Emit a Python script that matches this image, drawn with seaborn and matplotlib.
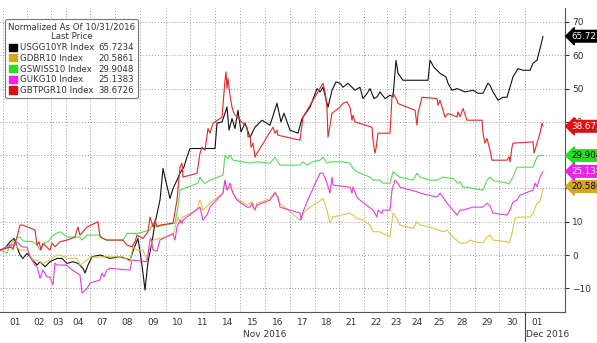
import numpy as np
import pandas as pd
import matplotlib
matplotlib.use("Agg")
import matplotlib.pyplot as plt
import matplotlib.transforms as mtransforms
from matplotlib.patches import Patch
import seaborn as sns

# ---------------- data ----------------
series_names = ["USGG10YR Index", "GDBR10 Index", "GSWISS10 Index", "GUKG10 Index", "GBTPGR10 Index"]
last_prices = [65.7234, 20.5861, 29.9048, 25.1383, 38.6726]
line_colors = ["#111111", "#dcc548", "#55dc55", "#e03ee0", "#e42828"]
swatch_colors = ["#000000", "#d4a81c", "#22e022", "#ee22ee", "#e01010"]
tag_text_colors = ["white", "black", "black", "white", "white"]

# trading-session boundaries (elapsed trading time units) and day labels
session_edges = [2.7, 26.7, 50.7, 65.7, 90, 115, 140, 165.7, 190, 215, 240, 265, 290,
                 315, 339, 364, 387, 405, 429, 450, 475, 499, 525, 549]
session_labels = ["01", "02", "03", "04", "07", "08", "09", "10", "11", "14", "15", "16",
                  "17", "18", "21", "22", "23", "24", "25", "28", "29", "30", "01"]
month_labels = ["Nov 2016", "Dec 2016"]

usgg_t = [0, 5, 10, 14, 17, 20, 23, 27, 33, 37, 40, 45, 50, 57, 62, 67, 73, 78, 83, 85, 88, 92, 100,
          110, 120, 130, 134, 138, 142, 145, 148, 152, 155, 160, 163, 166, 170, 173, 177, 180, 184,
          187, 190, 215, 217, 222, 225, 227, 229, 232, 235, 238, 241, 245, 250, 255, 262, 270, 277,
          281, 284, 290, 298, 302, 310, 317, 320, 323, 328, 332, 336, 340, 343, 348, 355, 360, 363,
          367, 370, 374, 377, 380, 385, 390, 393, 396, 398, 403, 428, 430, 434, 440, 446, 448, 452,
          457, 465, 473, 478, 483, 488, 490, 493, 498, 503, 507, 510, 513, 518, 523, 530, 533, 537,
          540, 543]
usgg_v = [1.5, 2, 4, 5, 2.5, 0, -1, 0.5, -1.5, -3, -2, -3.5, -2, -1, -1, -2.5, -2, -2.5, -4, -5.4,
          -3, -0.5, 0, -1, -0.5, -1.5, 2, 5, -3, -10.5, -2, 4, 9.6, 16.5, 26, 22, 17, 20, 22.5, 24.6,
          26.5, 29.5, 32, 32, 39.6, 40, 42.6, 44.5, 37.5, 41, 38, 43.5, 37, 39.6, 35.4, 38.4, 40.5,
          39, 45.6, 40, 42.6, 37.5, 36.6, 41, 44.4, 50, 49, 50.4, 44.4, 49.5, 52, 51.6, 50.4, 51.6,
          49.5, 50.4, 47, 48.5, 50, 47, 47.5, 49, 47, 48, 47.5, 58.5, 54.6, 52.5, 52.5, 58.5, 56.4,
          54.6, 53.5, 51.6, 49.5, 50, 49, 49.5, 48.6, 48.6, 51.6, 51, 49, 46.5, 47.4, 47.4, 50.4,
          53.5, 56, 55.5, 55.5, 57.6, 58.5, 62, 65.7]

gdbr_t = [0, 10, 13, 17, 20, 27, 33, 37, 43, 50, 57, 60, 67, 77, 80, 87, 90, 100, 107, 123, 130,
          133, 137, 140, 143, 147, 150, 153, 160, 173, 177, 178, 180, 183, 197, 200, 203, 210, 223,
          225, 227, 230, 233, 237, 247, 252, 255, 257, 270, 275, 280, 300, 303, 310, 317, 323, 327,
          330, 333, 350, 353, 357, 363, 370, 373, 380, 383, 390, 393, 397, 400, 413, 417, 420, 430,
          443, 447, 453, 460, 467, 470, 477, 483, 487, 490, 493, 507, 509, 512, 515, 517, 530, 533,
          537, 540, 543]
gdbr_v = [1.5, 2.4, 4.5, 2.4, 1.5, 1.5, -1.5, -1.5, -2.5, -1.5, 0, 0, -1, -1, -3, -1.5, -0.6, -0.6,
          -0.5, -0.5, -2, 2.4, 1.5, 1.5, 1.5, -1.5, 2.4, 4.5, 5, 6, 10.5, 11.4, 9.5, 11.4, 13.5, 16.5,
          13.5, 15.6, 18.6, 22.5, 19.5, 20.5, 18.5, 17, 15, 16, 14, 15.5, 17, 19, 15.5, 10.5, 12.6,
          14.4, 15.6, 17, 13.5, 9.6, 11.4, 12.6, 12, 11, 10.5, 9, 7, 7, 6.5, 5.5, 12.6, 11, 9, 8, 10,
          9, 8.4, 7, 7.5, 5.4, 3.6, 3.6, 4.5, 3.8, 3.8, 5.4, 6, 4.5, 4, 3.5, 6.5, 11, 11.4, 11.4,
          12.5, 15.6, 16, 20.1]

gswiss_t = [0, 7, 10, 13, 17, 20, 23, 33, 37, 40, 43, 48, 53, 60, 67, 80, 82, 87, 100, 103, 107,
            123, 127, 137, 150, 153, 157, 175, 178, 180, 198, 200, 203, 205, 210, 223, 225, 228, 230,
            233, 250, 257, 270, 275, 280, 300, 303, 307, 313, 320, 323, 327, 330, 343, 350, 353, 357,
            370, 373, 380, 383, 390, 393, 397, 400, 413, 417, 420, 430, 437, 443, 453, 458, 460, 463,
            467, 473, 483, 487, 490, 493, 507, 509, 513, 517, 533, 537, 540, 543]
gswiss_v = [1.5, 0.6, 3, 1.5, 5.4, 5.4, 4.2, 4, 3, 1.5, 3.5, 4, 6, 7, 5.4, 5.4, 4.5, 6, 6, 5, 4.5,
            4.5, 6.5, 6.5, 7.5, 9.6, 8.5, 9.6, 14.4, 19.5, 21.6, 23.4, 22, 21.5, 22.5, 24, 30, 29, 30,
            28.5, 27.6, 28, 27.6, 29.4, 27, 27, 28, 27, 28, 28.5, 29.4, 27.6, 28, 28, 27.6, 26, 25,
            23.4, 22.5, 22.5, 21.6, 21.6, 25, 24, 23.4, 22.5, 24.6, 23.4, 22.5, 22.5, 23.4, 23, 21.6,
            22, 20.4, 20.4, 20, 19.5, 22.5, 23.4, 22.4, 21.6, 21.3, 23.4, 26.4, 26.4, 29.4, 30, 29.9]

gukg_t = [0, 10, 13, 17, 20, 23, 27, 30, 35, 37, 40, 43, 47, 50, 53, 55, 57, 67, 70, 80, 82, 87, 90,
          100, 102, 104, 107, 110, 130, 132, 147, 150, 151, 153, 157, 160, 173, 175, 177, 180, 182,
          183, 200, 203, 207, 210, 223, 225, 227, 230, 233, 237, 247, 250, 252, 253, 255, 257, 270,
          275, 278, 280, 300, 301, 303, 310, 320, 323, 327, 330, 332, 333, 350, 352, 353, 357, 360,
          373, 377, 378, 382, 383, 390, 392, 395, 398, 400, 417, 420, 437, 440, 443, 447, 453, 457,
          460, 463, 473, 483, 487, 490, 493, 507, 510, 513, 517, 520, 533, 535, 537, 540, 543]
gukg_v = [1.5, 3, 3, 4, 3, 2.4, 2.4, -0.6, -3, -3.5, -7, -4.5, -6.6, -6.6, -9, -2.4, -3, -3, -4, -6,
          -11.4, -10, -8.4, -7.5, -5.4, -6.5, -4.5, -4, -4.5, -1.5, -2, 4.5, 5, 1.5, 1.2, 4.5, 6.5,
          4.5, 8.4, 10.5, 9.5, 10.5, 14.4, 10.5, 12, 14.4, 18.6, 22.5, 19.5, 21.6, 18.6, 16.5, 14.4,
          14.4, 15.5, 14.5, 13.5, 15, 16.5, 18.6, 17.5, 14.4, 12.6, 10.5, 13, 18, 24.6, 24.6, 21.6,
          18.6, 23.4, 21, 20.4, 18.6, 20.5, 17.4, 16.5, 13.5, 11.4, 13.5, 12.5, 13.5, 13.5, 19.5,
          22.5, 21.6, 20.4, 19, 18.6, 17.4, 18.6, 17.4, 15.6, 13.5, 12, 13.5, 13.5, 14.4, 14.4, 15.6,
          14.8, 12.6, 12, 13.5, 16, 16.5, 18, 19.5, 21.6, 20.5, 23.4, 25.1]

gbtp_t = [0, 10, 13, 17, 20, 23, 35, 37, 39, 41, 43, 48, 50, 52, 55, 60, 67, 75, 77, 78, 80, 87, 98,
          100, 103, 107, 123, 127, 132, 135, 137, 143, 148, 150, 153, 155, 157, 160, 173, 177, 180,
          182, 183, 190, 197, 200, 202, 205, 208, 210, 213, 222, 225, 226, 227, 228, 230, 232, 234,
          240, 247, 248, 250, 251, 253, 255, 257, 273, 275, 277, 278, 300, 303, 323, 325, 327, 328,
          332, 340, 343, 347, 350, 352, 353, 355, 372, 373, 375, 376, 378, 390, 392, 393, 397, 398,
          415, 417, 418, 422, 437, 438, 440, 443, 445, 448, 457, 458, 460, 463, 467, 482, 483, 485,
          487, 490, 492, 507, 509, 510, 512, 513, 533, 534, 537, 540, 542, 543]
gbtp_v = [1.5, 2.4, 2, 5.4, 9, 9, 7.5, 3, 4, 1.5, 3.5, 2, 1.5, 3.6, 2.5, 4, 4.5, 5.4, 7.5, 8.4, 6,
          8.4, 10, 5.4, 5, 4.5, 4.5, 3, 2.5, 4, 6, 5, 7, 11.4, 8.4, 10.5, 8.5, 9, 9.6, 16.5, 26.4,
          27.6, 23.4, 24, 24.5, 30.6, 32.4, 31.5, 38, 36.6, 39.6, 41.4, 52.5, 55, 50, 53, 48, 44.4,
          42.5, 40.5, 38.4, 35.4, 36, 32.4, 33.6, 29.4, 30.6, 38.4, 36.6, 37.5, 36, 34.5, 41.4, 51.6,
          49, 44.4, 35.4, 42.6, 44.4, 45.6, 46, 44.4, 40.5, 42, 40, 38.4, 34.5, 30.6, 32, 36.6, 36.6,
          47.4, 48.6, 46.5, 45.5, 43.5, 39, 42.6, 47.4, 47, 45, 46.5, 43.5, 41.4, 42.5, 41.5, 43,
          41.5, 44, 40.5, 40.5, 36.6, 33.6, 35, 31.5, 28.5, 28.5, 29.5, 28, 32.4, 33.6, 34, 30.6,
          33.6, 36.6, 39.6, 38.7]

all_t = [usgg_t, gdbr_t, gswiss_t, gukg_t, gbtp_t]
all_v = [usgg_v, gdbr_v, gswiss_v, gukg_v, gbtp_v]

frames = [pd.DataFrame({"t": t, "value": v, "series": n}) for n, t, v in zip(series_names, all_t, all_v)]
df = pd.concat(frames, ignore_index=True)

# ---------------- figure ----------------
sns.set_style("white")
plt.rcParams["font.family"] = ["DejaVu Sans"]

W, H = 597, 343
fig = plt.figure(figsize=(W / 100, H / 100), dpi=100)
ax = fig.add_axes([0, 1 - 312 / H, 565 / W, (312 - 8) / H])

sns.lineplot(data=df, x="t", y="value", hue="series", hue_order=series_names,
             palette=dict(zip(series_names, line_colors)), estimator=None, sort=False,
             legend=False, linewidth=0.8, ax=ax)

ax.set_xlim(0, 565)
ax.set_ylim(-17.1, 74.2)

# grid
grid_kw = dict(color="#9a9a9a", linestyle=(0, (1, 2)), linewidth=0.7)
edges = np.array(session_edges)
for e in edges[:-1]:
    ax.axvline(e, zorder=0, **grid_kw)
for yv in range(-10, 71, 10):
    ax.axhline(yv, zorder=0, **grid_kw)

# x ticks
mids = (edges[:-1] + edges[1:]) / 2
ax.set_xticks(mids)
ax.set_xticklabels(session_labels)
ax.set_xticks(edges[:-1], minor=True)
ax.tick_params(axis="x", which="major", length=0, pad=4, labelsize=6.5, colors="#333333")
ax.tick_params(axis="x", which="minor", length=4, direction="out", color="#555555", width=0.7)

# y ticks on the right
ax.yaxis.tick_right()
ax.set_yticks(range(-10, 71, 10))
ax.tick_params(axis="y", length=3, width=0.8, pad=2, labelsize=6.5, colors="#333333", direction="out")
ax.set_xlabel("")
ax.set_ylabel("")

for s in ["top", "left"]:
    ax.spines[s].set_visible(False)
for s in ["bottom", "right"]:
    ax.spines[s].set_color("#555555")
    ax.spines[s].set_linewidth(0.8)

# month labels and month separator
bt = mtransforms.blended_transform_factory(ax.transData, ax.transAxes)
ax.text((edges[11]), -0.075, month_labels[0], transform=bt, ha="center", va="center",
        fontsize=6.5, color="#333333")
ax.text(edges[22] + 1.5, -0.075, month_labels[1], transform=bt, ha="left", va="center",
        fontsize=6.5, color="#333333")
ax.plot([edges[22], edges[22]], [0, -0.095], transform=bt, color="#444444", lw=0.8, clip_on=False)

# last-price tags on the right
rt = mtransforms.blended_transform_factory(ax.transAxes, ax.transData)
for p, c, tc in zip(last_prices, swatch_colors, tag_text_colors):
    ax.text(1.012, p, f"{p:.4f}", transform=rt, ha="left", va="center", fontsize=6.3, color=tc,
            zorder=10, clip_on=False,
            bbox=dict(boxstyle="larrow,pad=0.15", fc=c, ec=c))

# legend
handles = [Patch(facecolor=c, edgecolor=c) for c in swatch_colors] + \
          [Patch(facecolor="none", edgecolor="none") for _ in swatch_colors]
labels = list(series_names) + [f"{p:.4f}" for p in last_prices]
leg = ax.legend(handles, labels, ncol=2, title="Normalized As Of 10/31/2016\nLast Price",
                loc="upper left", bbox_to_anchor=(5 / W, 1 - 19 / H), bbox_transform=fig.transFigure,
                borderaxespad=0, fontsize=6.2, title_fontsize=6.2, handlelength=0.9, handleheight=0.9,
                handletextpad=0.35, labelspacing=0.2, borderpad=0.35, columnspacing=-0.7,
                frameon=True, fancybox=True, edgecolor="#777777", framealpha=1)
leg.get_frame().set_linewidth(0.8)
for t in leg.get_texts():
    t.set_color("#333333")
leg.get_title().set_color("#333333")
leg.get_title().set_multialignment("center")

fig.savefig("out.png", dpi=100)
